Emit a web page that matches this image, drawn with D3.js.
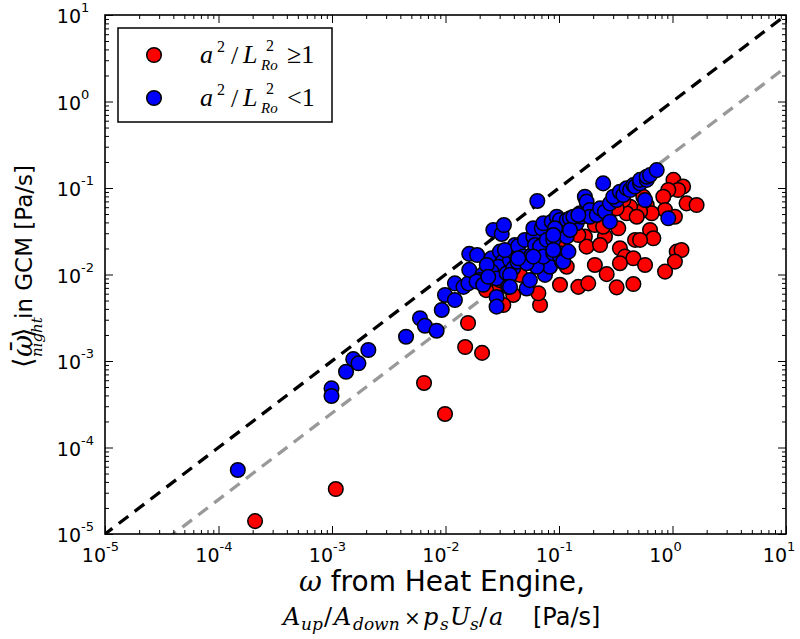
<!DOCTYPE html>
<html><head><meta charset="utf-8">
<script src="https://cdn.jsdelivr.net/npm/d3@7"></script>
<style>body{margin:0;background:#fff}</style>
</head><body><svg id="c" width="800" height="639"></svg>
<script>
// ---- data ----
const redX = [2.1e-4,1.08e-3,6.47e-3,9.9e-3,1.49e-2,2.1e-2,1.58e-2,6.81e-2,1.02,1.24,1.12,0.918,0.83,1.33,1.63,0.86,1.05,0.553,0.593,0.656,0.518,0.423,0.394,0.484,0.369,0.322,0.333,0.254,0.169,0.175,0.207,0.634,0.678,0.468,0.518,0.344,0.381,0.452,0.344,0.573,1.09,1.2,1.05,0.86,0.207,0.263,0.102,0.148,0.181,0.322,0.452,0.245,6.58e-2,3.95e-2,3.23e-2,2.73e-2,7.53e-2,9.8e-2,7.8e-2,8.0e-2,4.53e-2,2.28e-2,3.02e-2,0.117,0.148,0.23];
const redY = [1.41e-5,3.31e-5,5.57e-4,2.44e-4,1.45e-3,1.24e-3,2.75e-3,4.44e-3,0.124,0.104,9.48e-2,9.48e-2,7.93e-2,6.65e-2,6.36e-2,5.57e-2,4.66e-2,7.93e-2,6.36e-2,5.1e-2,5.32e-2,6.08e-2,5.1e-2,4.66e-2,7.26e-2,5.82e-2,3.42e-2,2.74e-2,2.74e-2,2.1e-2,3.73e-2,3.27e-2,2.62e-2,2.51e-2,2.51e-2,2.01e-2,1.61e-2,1.54e-2,1.35e-2,1.29e-2,1.84e-2,1.92e-2,1.41e-2,1.08e-2,1.29e-2,1.01e-2,7.6e-3,7.2e-3,7.9e-3,7.1e-3,7.76e-3,3.57e-2,6.07e-3,5.8e-3,4.44e-3,6.32e-3,1.08e-2,2.19e-2,1.61e-2,1.37e-2,9.9e-3,6.6e-3,8.6e-3,1.23e-2,2.86e-2,2.19e-2];
const blueX = [1.48e-4,9.9e-4,9.9e-4,1.33e-3,1.54e-3,1.71e-3,2.09e-3,4.49e-3,5.96e-3,6.59e-3,8.35e-3,9.27e-3,9.9e-3,1.21e-2,1.21e-2,1.44e-2,1.59e-2,1.62e-2,1.62e-2,1.9e-2,2.11e-2,2.01e-2,1.88e-2,2.15e-2,2.55e-2,2.64e-2,3.13e-2,3.27e-2,3.02e-2,3.19e-2,2.92e-2,2.55e-2,2.82e-2,2.31e-2,2.38e-2,2.82e-2,2.82e-2,3.46e-2,3.7e-2,3.95e-2,3.7e-2,4.09e-2,4.09e-2,3.34e-2,4.37e-2,4.3e-2,4.85e-2,5.0e-2,5.74e-2,5.94e-2,6.15e-2,6.81e-2,5.94e-2,7.05e-2,7.28e-2,8.63e-2,9.55e-2,6.44e-2,7.53e-2,8.34e-2,3.57e-2,5.19e-2,5.54e-2,6.37e-2,5.19e-2,7.28e-2,8.91e-2,0.102,0.106,7.8e-2,8.91e-2,9.55e-2,0.117,0.102,0.117,0.125,0.143,0.134,0.158,0.153,0.169,0.175,0.187,0.187,0.215,0.23,0.254,0.281,0.322,0.301,0.344,0.369,0.394,0.423,0.452,0.468,0.518,0.518,0.593,0.593,0.634,0.726,0.245,0.281,0.573,0.918,0.148,9.23e-2,8.91e-2,0.125,0.102,0.109,0.121,8.91e-2,3.7e-2,4.37e-2,5.94e-2];
const blueY = [5.5e-5,4.83e-4,3.94e-4,7.5e-4,1.05e-3,9.4e-4,1.34e-3,1.91e-3,3.12e-3,2.56e-3,2.24e-3,3.89e-3,5.8e-3,5.07e-3,7.9e-3,7.2e-3,7.9e-3,1.13e-2,1.73e-2,1.68e-2,9.9e-3,8.6e-3,8.3e-3,7.6e-3,1.54e-2,3.27e-2,2.94e-2,3.73e-2,1.84e-2,1.41e-2,1.23e-2,1.08e-2,9.0e-3,1.29e-2,9.4e-3,5.5e-3,4.25e-3,1.03e-2,1.47e-2,1.18e-2,9.9e-3,1.76e-2,2.19e-2,1.92e-2,2.13e-2,1.41e-2,1.61e-2,2.51e-2,1.68e-2,2.74e-2,2.19e-2,2.1e-2,3.42e-2,3.42e-2,3.91e-2,4.08e-2,4.66e-2,7.08e-2,9.9e-3,1.23e-2,7.2e-3,6.9e-3,8.6e-3,1.23e-2,1.35e-2,1.61e-2,1.76e-2,1.76e-2,1.41e-2,2.51e-2,2.51e-2,3.27e-2,2.74e-2,4.27e-2,4.27e-2,4.47e-2,3.91e-2,4.66e-2,4.66e-2,5.1e-2,7.93e-2,6.95e-2,5.57e-2,4.66e-2,4.88e-2,5.82e-2,5.32e-2,6.65e-2,7.26e-2,7.93e-2,9.06e-2,8.3e-2,9.93e-2,9.48e-2,0.108,0.104,0.113,0.124,0.124,0.135,0.141,0.161,0.113,4.08e-2,7.26e-2,4.47e-2,4.88e-2,3.42e-2,2.86e-2,3.27e-2,1.61e-2,1.41e-2,1.84e-2,1.92e-2,7.2e-3,1.54e-2,1.61e-2];
const tickExponents = [-5,-4,-3,-2,-1,0,1];
const refRatios = [1, 0.25];          // y = ratio * x reference lines
const refColors = ["#000000", "#999999"];
const seriesNames = ["≥1", "<1"];
const seriesColors = ["#ff0000", "#0000ff"];

// ---- layout ----
const L = 105, R = 786, T = 15, B = 534;
const svg = d3.select("#c");
const x = d3.scaleLog().domain([1e-5, 10]).range([L, R]);
const y = d3.scaleLog().domain([1e-5, 10]).range([B, T]);

svg.append("defs").append("clipPath").attr("id", "clip")
  .append("rect").attr("x", L).attr("y", T).attr("width", R - L).attr("height", B - T);

const plot = svg.append("g").attr("clip-path", "url(#clip)");

// reference lines
refRatios.forEach((r, i) => {
  const pts = [1e-6, 100].map(v => [x(v), y(v * r)]);
  plot.append("path").attr("d", d3.line()(pts))
    .attr("fill", "none").attr("stroke", refColors[i]).attr("stroke-width", 3.3)
    .attr("stroke-dasharray", "12,8");
});

// points
function drawSeries(xs, ys, color) {
  plot.append("g").selectAll("circle").data(xs.map((v, i) => [v, ys[i]])).join("circle")
    .attr("cx", d => x(d[0])).attr("cy", d => y(d[1])).attr("r", 7.3)
    .attr("fill", color).attr("stroke", "#000").attr("stroke-width", 1.5);
}
drawSeries(redX, redY, seriesColors[0]);
drawSeries(blueX, blueY, seriesColors[1]);

// ticks
const majors = tickExponents.map(e => Math.pow(10, e));
const minors = [];
tickExponents.slice(0, -1).forEach(e => { for (let m = 2; m <= 9; m++) minors.push(m * Math.pow(10, e)); });
function ticks(gen, tr, vals, size) {
  const g = svg.append("g").attr("transform", tr)
    .call(gen.tickValues(vals).tickSize(size).tickFormat(""));
  g.select(".domain").remove();
  g.selectAll("line").attr("stroke", "#000").attr("stroke-width", 1);
}
[[majors, -8], [minors, -4]].forEach(([v, s]) => {
  ticks(d3.axisBottom(x), `translate(0,${B})`, v, s);
  ticks(d3.axisTop(x), `translate(0,${T})`, v, s);
  ticks(d3.axisLeft(y), `translate(${L},0)`, v, s);
  ticks(d3.axisRight(y), `translate(${R},0)`, v, s);
});

// frame
svg.append("rect").attr("x", L).attr("y", T).attr("width", R - L).attr("height", B - T)
  .attr("fill", "none").attr("stroke", "#000").attr("stroke-width", 1.6);

// tick labels
const sans = "DejaVu Sans, sans-serif";
tickExponents.forEach(e => {
  const v = Math.pow(10, e);
  const xp = x(v);
  svg.append("text").attr("x", xp + 1).attr("y", 562).attr("text-anchor", "end")
    .attr("font-family", sans).attr("font-size", 19).text("10");
  svg.append("text").attr("x", xp + 1).attr("y", 551).attr("font-family", sans)
    .attr("font-size", 13).text(String(e));
  const yp = y(v);
  svg.append("text").attr("x", 81).attr("y", yp + 8).attr("text-anchor", "end")
    .attr("font-family", sans).attr("font-size", 19).text("10");
  svg.append("text").attr("x", 81).attr("y", yp - 3).attr("font-family", sans)
    .attr("font-size", 13).text(String(e));
});

// y axis label: one text element, rotated (x = -screenY, y = screenX)
const serif = "DejaVu Serif, serif";
const ylab = svg.append("g").attr("transform", "rotate(-90)")
  .append("text").attr("y", 32).attr("font-family", serif).attr("font-size", 27);
ylab.append("tspan").attr("x", -368).text("⟨");
ylab.append("tspan").attr("x", -357).attr("font-style", "italic").text("ω");
ylab.append("tspan").attr("x", -353).attr("dy", -1).text("¯");
ylab.append("tspan").attr("x", -338).attr("dy", 1).text("⟩");
ylab.append("tspan").attr("x", -357).attr("dy", 10).attr("font-size", 15)
  .attr("font-style", "italic").text("night");
ylab.append("tspan").attr("x", -319).attr("dy", -10).attr("font-family", sans)
  .attr("font-size", 23).text("in GCM [Pa/s]");

// x axis label
const xl1 = svg.append("text").attr("x", 442).attr("y", 591).attr("text-anchor", "middle")
  .attr("font-family", sans).attr("font-size", 28);
xl1.append("tspan").attr("font-family", serif).attr("font-style", "italic").text("ω");
xl1.append("tspan").text(" from Heat Engine,");

const xl2 = svg.append("text").attr("y", 625).attr("font-family", serif).attr("font-size", 24);
const piece = (xx, s, size, italic, dy, fam) => {
  const t = xl2.append("tspan").attr("x", xx).attr("font-size", size)
    .attr("font-style", italic ? "italic" : "normal").text(s);
  if (dy) t.attr("dy", dy);
  if (fam) t.attr("font-family", fam);
};
piece(283, "A", 24, true);
piece(301, "up", 17, true, 5);
piece(324, "/", 24, false, -5);
piece(334, "A", 24, true);
piece(353, "down", 17, true, 5);
piece(404, "×", 20, false, -5);
piece(423, "p", 24, true);
piece(440, "s", 17, true, 5);
piece(450, "U", 24, true, -5);
piece(470, "s", 17, true, 5);
piece(479, "/", 24, false, -5);
piece(489, "a", 24, true);
piece(533, "[Pa/s]", 24, false, 0, sans);

// legend
svg.append("rect").attr("x", 118).attr("y", 28).attr("width", 214).attr("height", 94)
  .attr("fill", "#fff").attr("stroke", "#000").attr("stroke-width", 1.5);
const lserif = "Liberation Serif, serif";
seriesNames.forEach((name, i) => {
  const cy = 55 + i * 43;
  svg.append("circle").attr("cx", 154).attr("cy", cy).attr("r", 7.3)
    .attr("fill", seriesColors[i]).attr("stroke", "#000").attr("stroke-width", 1.5);
  const base = cy + 8;
  const t = (xx, yy, s, size, italic) => svg.append("text").attr("x", xx).attr("y", yy)
    .attr("font-family", lserif).attr("font-size", size)
    .attr("font-style", italic ? "italic" : "normal").text(s);
  t(200, base, "a", 26, true);
  t(217, base - 11, "2", 16, false);
  t(231, base + 1, "/", 26, false);
  t(243, base, "L", 26, true);
  t(266, base - 12, "2", 16, false);
  t(261, base + 7, "Ro", 15, true);
  t(287, base, name, 26, false);
});
</script>
</body></html>
